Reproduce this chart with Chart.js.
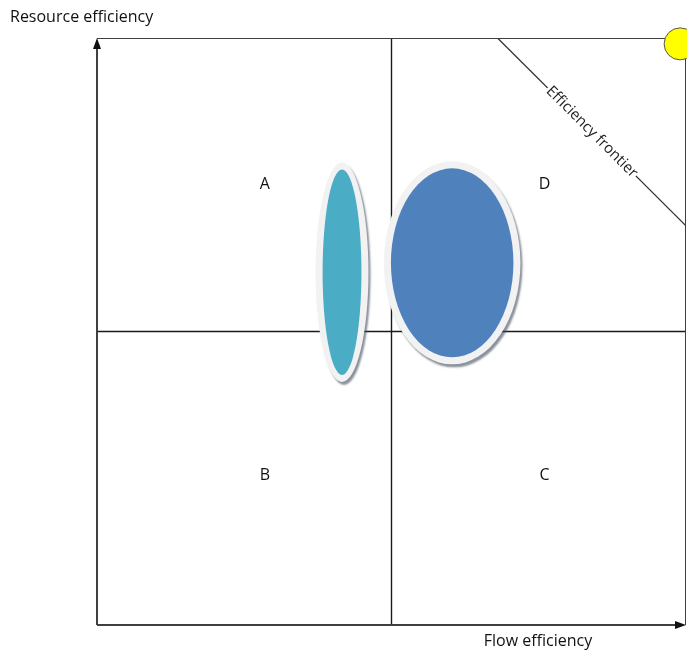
<!DOCTYPE html>
<html>
<head>
<meta charset="utf-8">
<script src="https://cdn.jsdelivr.net/npm/chart.js@4.4.0/dist/chart.umd.min.js"></script>
<style>
  html, body { margin: 0; padding: 0; background: #fff; }
  #wrap { width: 687px; height: 650px; }
</style>
</head>
<body>
<div id="wrap"><canvas id="matrix"></canvas></div>
<script>
// axis titles
const xTitle = 'Flow efficiency';
const yTitle = 'Resource efficiency';

// quadrant labels and their positions (data units 0..100)
const quadLabels = ['A', 'B', 'C', 'D'];
const quadX = [28.5, 28.5, 76, 76];
const quadY = [75, 25.5, 25.5, 75];

// ellipses: centre and half-width / half-height in data units
const blobNames = ['Teal', 'Blue'];
const blobX = [41.6, 60.3];
const blobY = [60.1, 61.7];
const blobRx = [3.3, 10.4];
const blobRy = [17.5, 16.1];
const blobColors = ['#4BACC6', '#4F81BD'];

// efficiency frontier
const frontierX = [68, 100];
const frontierY = [100, 68];
const frontierLabel = 'Efficiency frontier';

// ideal point
const idealX = [99];
const idealY = [99];
const idealR = [16];

const ink = '#404040';
const font = '"Open Sans", "Noto Sans", sans-serif';
const fontSize = 16;

const ellipsePlugin = {
    id: 'ellipses',
    afterDatasetsDraw(chart) {
        const { ctx, scales: { x, y } } = chart;
        blobX.forEach((cx, i) => {
            const px = x.getPixelForValue(cx);
            const py = y.getPixelForValue(blobY[i]);
            const rx = Math.abs(x.getPixelForValue(cx + blobRx[i]) - px);
            const ry = Math.abs(y.getPixelForValue(blobY[i] + blobRy[i]) - py);
            ctx.save();
            // shadow + light rim
            ctx.shadowColor = 'rgba(60,70,90,0.6)';
            ctx.shadowBlur = 2;
            ctx.shadowOffsetX = 2;
            ctx.shadowOffsetY = 3;
            ctx.beginPath();
            ctx.ellipse(px, py, rx + 7, ry + 7, 0, 0, Math.PI * 2);
            ctx.fillStyle = '#F2F2F2';
            ctx.fill();
            ctx.restore();
            ctx.save();
            ctx.beginPath();
            ctx.ellipse(px, py, rx, ry, 0, 0, Math.PI * 2);
            ctx.fillStyle = blobColors[i];
            ctx.fill();
            ctx.restore();
        });
    }
};

const textPlugin = {
    id: 'texts',
    afterDraw(chart) {
        const { ctx, chartArea: a, scales: { x, y } } = chart;
        ctx.save();
        ctx.fillStyle = '#111';
        ctx.font = fontSize + 'px ' + font;
        ctx.textAlign = 'center';
        ctx.textBaseline = 'middle';
        quadLabels.forEach((t, i) => {
            ctx.fillText(t, x.getPixelForValue(quadX[i]), y.getPixelForValue(quadY[i]));
        });

        // axis titles
        ctx.textAlign = 'left';
        ctx.fillText(yTitle, 10, 17);
        ctx.textAlign = 'center';
        ctx.fillText(xTitle, 538, 641);

        // axis lines with arrow heads
        ctx.strokeStyle = ink;
        ctx.fillStyle = '#111';
        ctx.lineWidth = 2;
        ctx.beginPath();
        ctx.moveTo(a.left, a.bottom);
        ctx.lineTo(a.left, a.top + 8);
        ctx.moveTo(a.left, a.bottom);
        ctx.lineTo(a.right - 8, a.bottom);
        ctx.stroke();
        ctx.beginPath();
        ctx.moveTo(a.left, a.top);
        ctx.lineTo(a.left - 4, a.top + 11);
        ctx.lineTo(a.left + 4, a.top + 11);
        ctx.closePath();
        ctx.fill();
        ctx.beginPath();
        ctx.moveTo(a.right, a.bottom);
        ctx.lineTo(a.right - 11, a.bottom - 4);
        ctx.lineTo(a.right - 11, a.bottom + 4);
        ctx.closePath();
        ctx.fill();

        // frontier label on the line
        const mx = x.getPixelForValue((frontierX[0] + frontierX[1]) / 2);
        const my = y.getPixelForValue((frontierY[0] + frontierY[1]) / 2);
        ctx.translate(mx, my);
        ctx.rotate(Math.PI / 4);
        ctx.font = '15px ' + font;
        const w = ctx.measureText(frontierLabel).width;
        ctx.fillStyle = '#fff';
        ctx.fillRect(-w / 2 - 1, -7, w + 2, 14);
        ctx.fillStyle = '#222';
        ctx.textAlign = 'center';
        ctx.textBaseline = 'middle';
        ctx.fillText(frontierLabel, 0, 0);
        ctx.restore();
    }
};

const lineStyle = { showLine: true, pointRadius: 0, fill: false, borderColor: ink };

new Chart(document.getElementById('matrix'), {
    type: 'scatter',
    data: {
        datasets: [
            // first dataset is painted last, so the ideal point sits on top of the frame
            { type: 'bubble', label: 'ideal', clip: false,
              backgroundColor: '#FFFF00', borderColor: '#555', borderWidth: 1,
              data: idealX.map((v, i) => ({ x: v, y: idealY[i], r: idealR[i] })) },
            { ...lineStyle, label: 'frame', borderWidth: 2,
              data: [{ x: 0, y: 100 }, { x: 100, y: 100 }, { x: 100, y: 0 }] },
            { ...lineStyle, label: 'mid x', borderWidth: 1.4, borderColor: '#1a1a1a',
              data: [{ x: 50, y: 0 }, { x: 50, y: 100 }] },
            { ...lineStyle, label: 'mid y', borderWidth: 1.4, borderColor: '#1a1a1a',
              data: [{ x: 0, y: 50 }, { x: 100, y: 50 }] },
            { ...lineStyle, label: frontierLabel, borderWidth: 1.3, borderColor: '#333',
              data: frontierX.map((v, i) => ({ x: v, y: frontierY[i] })) }
        ]
    },
    options: {
        responsive: true,
        maintainAspectRatio: false,
        animation: false,
        layout: { autoPadding: false, padding: { left: 97, top: 38, right: 1, bottom: 25 } },
        plugins: { legend: { display: false }, tooltip: { enabled: false } },
        scales: {
            x: { type: 'linear', min: 0, max: 100, display: false },
            y: { type: 'linear', min: 0, max: 100, display: false }
        }
    },
    plugins: [ellipsePlugin, textPlugin]
});
</script>
</body>
</html>
